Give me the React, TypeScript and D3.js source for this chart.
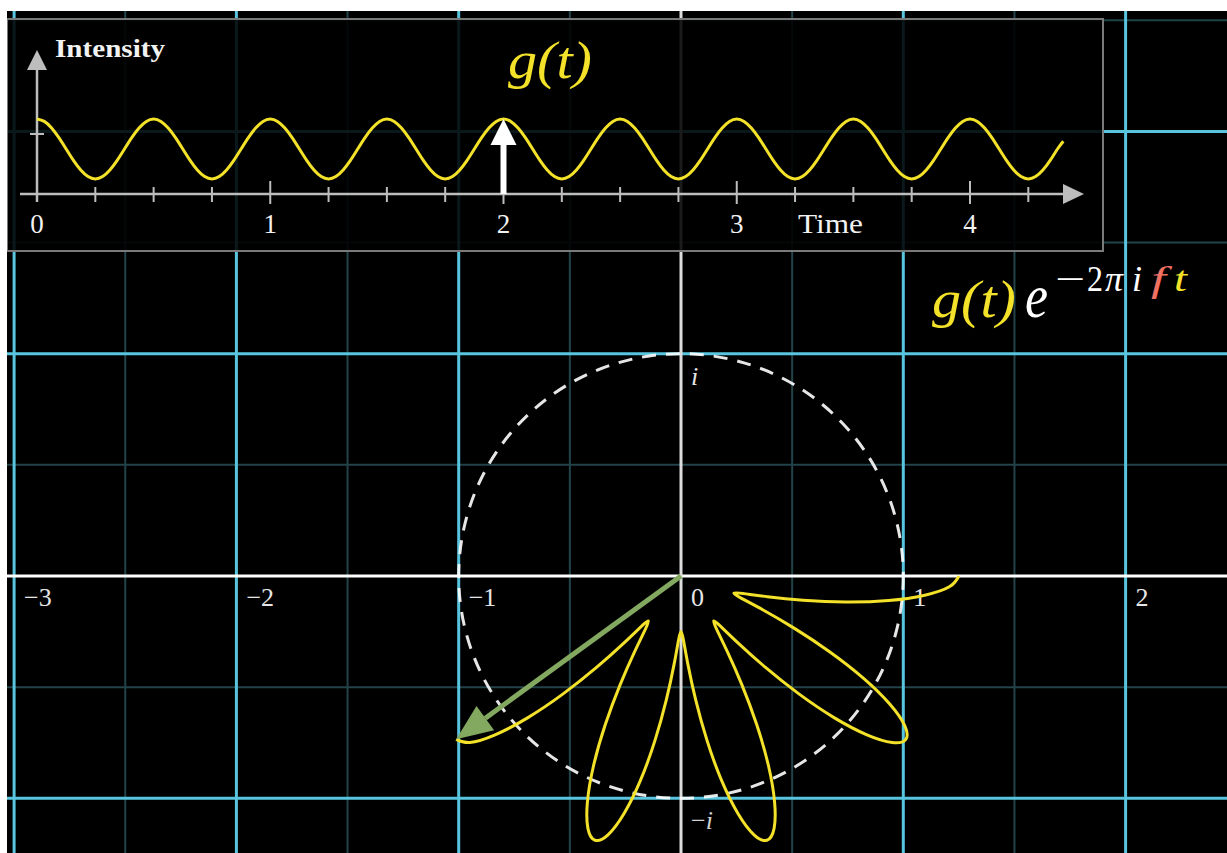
import React from 'react';
import * as d3 from 'd3';

const W = 1227;
const H = 853;

// g(t), one reading every 1/32 time unit from t = 0
const SAMPLE_STEP = 1 / 32;
const INTENSITY = [
  1.25, 1.21, 1.1, 0.94, 0.75, 0.56, 0.4, 0.29, 0.25, 0.29, 0.4, 0.56, 0.75, 0.94, 1.1, 1.21,
  1.25, 1.21, 1.1, 0.94, 0.75, 0.56, 0.4, 0.29, 0.25, 0.29, 0.4, 0.56, 0.75, 0.94, 1.1, 1.21,
  1.25, 1.21, 1.1, 0.94, 0.75, 0.56, 0.4, 0.29, 0.25, 0.29, 0.4, 0.56, 0.75, 0.94, 1.1, 1.21,
  1.25, 1.21, 1.1, 0.94, 0.75, 0.56, 0.4, 0.29, 0.25, 0.29, 0.4, 0.56, 0.75, 0.94, 1.1, 1.21,
  1.25, 1.21, 1.1, 0.94, 0.75, 0.56, 0.4, 0.29, 0.25, 0.29, 0.4, 0.56, 0.75, 0.94, 1.1, 1.21,
  1.25, 1.21, 1.1, 0.94, 0.75, 0.56, 0.4, 0.29, 0.25, 0.29, 0.4, 0.56, 0.75, 0.94, 1.1, 1.21,
  1.25, 1.21, 1.1, 0.94, 0.75, 0.56, 0.4, 0.29, 0.25, 0.29, 0.4, 0.56, 0.75, 0.94, 1.1, 1.21,
  1.25, 1.21, 1.1, 0.94, 0.75, 0.56, 0.4, 0.29, 0.25, 0.29, 0.4, 0.56, 0.75, 0.94, 1.1, 1.21,
  1.25, 1.21, 1.1, 0.94, 0.75, 0.56, 0.4, 0.29, 0.25, 0.29, 0.4, 0.56, 0.75, 0.88,
];
const WINDING_FREQ = 0.2; // cycles per unit time
const T_NOW = 2;

const TIME_LABELS = [0, 1, 2, 3, 4];
const TIME_TICKS = [0.25, 0.5, 0.75, 1, 1.25, 1.5, 1.75, 2, 2.25, 2.5, 2.75, 3, 3.25, 3.5, 3.75, 4, 4.25];
const INTENSITY_TICKS = [1];

const RE_LABELS = [-3, -2, -1, 0, 1, 2];
const RE_MAJOR = [-3, -2, -1, 1, 2];
const RE_MINOR = [-2.5, -1.5, -0.5, 0.5, 1.5];
const IM_MAJOR = [-1, 1, 2];
const IM_MINOR = [-0.5, 0.5, 1.5, 2.5];

const BLUE = '#58c4dd';
const FAINT = '#23434a';
const YELLOW = '#f3e229';
const GREEN = '#83a85f';
const RED = '#f07062';
const AXIS_GRAY = '#bdbdbd';
const SERIF = '"Liberation Serif", "DejaVu Serif", serif';

const minus = (v: number) => (v < 0 ? '\u2212' + Math.abs(v) : String(v));

export default function App() {
  // complex plane
  const px = d3.scaleLinear().domain([0, 1]).range([681, 903.3]);
  const py = d3.scaleLinear().domain([0, 1]).range([576, 353.7]);
  // inset g(t) graph
  const tx = d3.scaleLinear().domain([0, 4]).range([37, 970]);
  const gy = d3.scaleLinear().domain([0, 1]).range([194, 134]);

  // last reading sits at t = 4.4 rather than on the 1/32 grid
  const sampleT = (i: number) => (i === INTENSITY.length - 1 ? 4.4 : i * SAMPLE_STEP);

  const wave = d3
    .line<number>()
    .x((_, i) => tx(sampleT(i)))
    .y(d => gy(d))
    .curve(d3.curveNatural)(INTENSITY);

  const nNow = Math.round(T_NOW / SAMPLE_STEP);
  const wound: [number, number][] = INTENSITY.slice(0, nNow + 1).map((g, i) => {
    const a = -2 * Math.PI * WINDING_FREQ * sampleT(i);
    return [px(g * Math.cos(a)), py(g * Math.sin(a))];
  });
  const woundPath = d3.line().curve(d3.curveNatural)(wound);

  // green vector to the current point
  const [tipX, tipY] = wound[wound.length - 1];
  const ox = px(0);
  const oy = py(0);
  const len = Math.hypot(tipX - ox, tipY - oy);
  const ux = (tipX - ox) / len;
  const uy = (tipY - oy) / len;
  const headL = 36;
  const headW = 15;
  const bx = tipX - ux * headL;
  const by = tipY - uy * headL;

  const unitR = px(1) - px(0);

  // white arrow at t = T_NOW in the inset
  const ax = tx(T_NOW);
  const ay = gy(INTENSITY[nNow]);

  const txtFill = '#f2f2f2';

  return (
    <svg
      width={W}
      height={H}
      style={{ position: 'absolute', left: 0, top: 0, display: 'block' }}
      fontFamily={SERIF}
    >
      <defs>
        <clipPath id="frame">
          <rect x={7} y={11} width={W - 7} height={H - 11} />
        </clipPath>
      </defs>
      <rect width={W} height={H} fill="#fff" />
      <rect x={7} y={11} width={W - 7} height={H - 11} fill="#000" />

      <g clipPath="url(#frame)">
        {RE_MINOR.map(v => (
          <line key={'rm' + v} x1={px(v)} x2={px(v)} y1={0} y2={H} stroke={FAINT} strokeWidth={2} />
        ))}
        {IM_MINOR.map(v => (
          <line key={'im' + v} x1={0} x2={W} y1={py(v)} y2={py(v)} stroke={FAINT} strokeWidth={2} />
        ))}
        {RE_MAJOR.map(v => (
          <line key={'rM' + v} x1={px(v)} x2={px(v)} y1={0} y2={H} stroke={BLUE} strokeWidth={3} />
        ))}
        {IM_MAJOR.map(v => (
          <line key={'iM' + v} x1={0} x2={W} y1={py(v)} y2={py(v)} stroke={BLUE} strokeWidth={3} />
        ))}
        <line x1={0} x2={W} y1={py(0)} y2={py(0)} stroke="#fff" strokeWidth={3} />
        <line x1={px(0)} x2={px(0)} y1={0} y2={H} stroke="#dcdcdc" strokeWidth={3} />

        <circle
          cx={px(0)}
          cy={py(0)}
          r={unitR}
          fill="none"
          stroke="#fff"
          strokeWidth={3}
          strokeDasharray="14 10"
          opacity={0.9}
        />

        {RE_LABELS.map(v => (
          <text key={'rl' + v} x={px(v) + 10} y={py(0) + 30} fontSize={26} fill="#e6e6e6">
            {minus(v)}
          </text>
        ))}
        <text x={px(0) + 10} y={py(1) + 31} fontSize={26} fontStyle="italic" fill="#e6e6e6">
          i
        </text>
        <text x={px(0) + 10} y={py(-1) + 31} fontSize={26} fill="#d0d0d0">
          {'\u2212'}
          <tspan fontStyle="italic">i</tspan>
        </text>

        <path d={woundPath ?? ''} fill="none" stroke={YELLOW} strokeWidth={3} strokeLinejoin="round" />

        <line x1={ox} y1={oy} x2={bx} y2={by} stroke={GREEN} strokeWidth={5} />
        <polygon
          points={`${tipX},${tipY} ${bx - uy * headW},${by + ux * headW} ${bx + uy * headW},${by - ux * headW}`}
          fill={GREEN}
        />

        {/* formula g(t) e^{-2 pi i f t} */}
        <text x={932} y={317} fontSize={52} fontStyle="italic" fill={YELLOW} textLength={84} lengthAdjust="spacingAndGlyphs">
          g(t)
        </text>
        <text x={1025} y={317} fontSize={62} fontStyle="italic" fill="#fff" textLength={23} lengthAdjust="spacingAndGlyphs">
          e
        </text>
        <g fontSize={36}>
          <text x={1055} y={291} fill="#fff" textLength={30} lengthAdjust="spacingAndGlyphs">
            {'\u2212'}
          </text>
          <text x={1087} y={291} fill="#fff" textLength={16} lengthAdjust="spacingAndGlyphs">
            2
          </text>
          <text x={1105} y={291} fill="#fff" fontStyle="italic" textLength={18} lengthAdjust="spacingAndGlyphs">
            {'\u03c0'}
          </text>
          <text x={1132} y={291} fill="#fff" fontStyle="italic" textLength={10} lengthAdjust="spacingAndGlyphs">
            i
          </text>
          <text x={1151} y={291} fill={RED} fontStyle="italic" textLength={15} lengthAdjust="spacingAndGlyphs">
            f
          </text>
          <text x={1174} y={291} fill={YELLOW} fontStyle="italic" textLength={13} lengthAdjust="spacingAndGlyphs">
            t
          </text>
        </g>

        {/* inset panel */}
        <rect x={7} y={19} width={1096} height={232} fill="#000" fillOpacity={0.88} stroke="#7a7a7a" strokeWidth={2} />

        <line x1={20} x2={1066} y1={gy(0)} y2={gy(0)} stroke={AXIS_GRAY} strokeWidth={2.5} />
        <polygon points={`1063,${gy(0) - 10} 1084,${gy(0)} 1063,${gy(0) + 10}`} fill={AXIS_GRAY} />
        <line x1={tx(0)} x2={tx(0)} y1={202} y2={68} stroke={AXIS_GRAY} strokeWidth={2.5} />
        <polygon points={`${tx(0) - 10},70 ${tx(0)},50 ${tx(0) + 10},70`} fill={AXIS_GRAY} />

        {TIME_TICKS.map(v => {
          const major = Number.isInteger(v);
          return (
            <line
              key={'tt' + v}
              x1={tx(v)}
              x2={tx(v)}
              y1={gy(0) - (major ? 13 : 7)}
              y2={gy(0) + (major ? 10 : 8)}
              stroke={AXIS_GRAY}
              strokeWidth={2}
            />
          );
        })}
        {INTENSITY_TICKS.map(v => (
          <line key={'gt' + v} x1={tx(0) - 7} x2={tx(0) + 7} y1={gy(v)} y2={gy(v)} stroke={AXIS_GRAY} strokeWidth={2} />
        ))}
        {TIME_LABELS.map(v => (
          <text key={'tl' + v} x={tx(v)} y={233} fontSize={27} fill={txtFill} textAnchor="middle">
            {v}
          </text>
        ))}
        <text x={798} y={233} fontSize={27} fill={txtFill} textLength={65} lengthAdjust="spacingAndGlyphs">
          Time
        </text>
        <text x={55} y={57} fontSize={26} fill={txtFill} fontWeight="bold" textLength={110} lengthAdjust="spacingAndGlyphs">
          Intensity
        </text>

        <path d={wave ?? ''} fill="none" stroke={YELLOW} strokeWidth={3} />

        <line x1={ax} x2={ax} y1={gy(0)} y2={ay + 24} stroke="#fff" strokeWidth={6} />
        <polygon points={`${ax - 13},${ay + 26} ${ax},${ay} ${ax + 13},${ay + 26}`} fill="#fff" />

        <text x={508} y={78} fontSize={52} fontStyle="italic" fill={YELLOW} textLength={84} lengthAdjust="spacingAndGlyphs">
          g(t)
        </text>
      </g>
    </svg>
  );
}
